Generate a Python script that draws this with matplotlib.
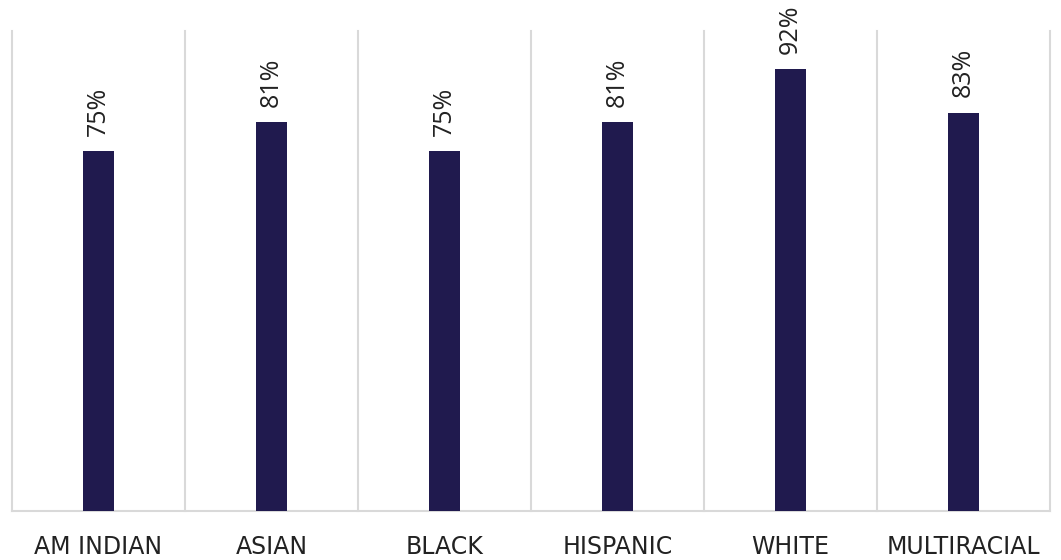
import matplotlib
matplotlib.use("Agg")
import matplotlib.pyplot as plt

categories = ["AM INDIAN", "ASIAN", "BLACK", "HISPANIC", "WHITE", "MULTIRACIAL"]
values = [0.75, 0.81, 0.75, 0.81, 0.92, 0.83]
value_labels = ["75%", "81%", "75%", "81%", "92%", "83%"]

plt.rcParams['font.family'] = ['Open Sans', 'DejaVu Sans']

fig = plt.figure(figsize=(10.61, 5.6), dpi=100)
ax = fig.add_axes([12/1061, 49/560, 1038/1061, 480/560])

x = list(range(len(categories)))
ax.bar(x, values, width=0.18, color="#201a4e", zorder=3)

for xi, v, lab in zip(x, values, value_labels):
    ax.annotate(lab, (xi, v), xytext=(0, 11), textcoords="offset points",
                rotation=90, ha="center", va="bottom", fontsize=18, color="#222222")

ax.set_xlim(-0.5, len(categories) - 0.5)
ax.set_ylim(0, 1.0)
ax.set_yticks([])
ax.set_xticks(x)
ax.set_xticklabels(categories, fontsize=17, color="#222222", family="DejaVu Sans")
ax.tick_params(axis="x", length=0, pad=17)

for b in [i - 0.5 for i in range(len(categories) + 1)]:
    ax.axvline(b, color="#d9d9d9", lw=1.5, zorder=1, clip_on=False)

for s in ["top", "left", "right"]:
    ax.spines[s].set_visible(False)
ax.spines["bottom"].set_color("#d9d9d9")
ax.spines["bottom"].set_linewidth(1.5)

fig.savefig("out.png", dpi=100)
